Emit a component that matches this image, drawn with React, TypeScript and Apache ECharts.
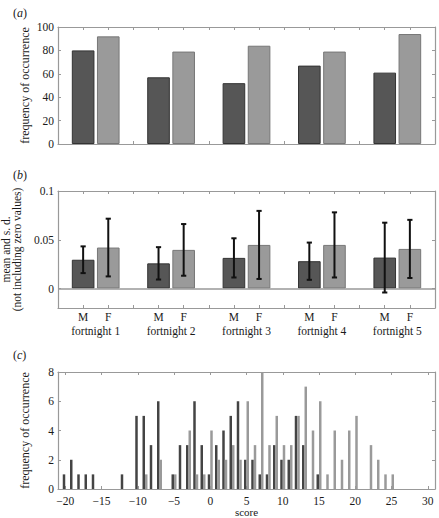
import React, { useEffect, useRef } from 'react';
import * as echarts from 'echarts';

// ---------- data ----------
const fortnights = ['fortnight 1', 'fortnight 2', 'fortnight 3', 'fortnight 4', 'fortnight 5'];
const sexLabels = ['M', 'F'];

// (a) frequency of occurrence per fortnight
const freqMale = [80, 57, 52, 67, 61];
const freqFemale = [92, 79, 84, 79, 94];

// (b) mean and s.d. (not including zero values)
const meanMale = [0.0295, 0.0258, 0.0314, 0.028, 0.0317];
const sdMale = [0.0137, 0.0166, 0.0201, 0.0191, 0.0358];
const meanFemale = [0.042, 0.0396, 0.0447, 0.0447, 0.0406];
const sdFemale = [0.0296, 0.0265, 0.0349, 0.0334, 0.0298];

// (c) histogram of scores
const scoreBins = [
  -20, -19, -18, -17, -16, -15, -14, -13, -12, -11, -10, -9, -8, -7, -6, -5, -4, -3, -2, -1,
  0, 1, 2, 3, 4, 5, 6, 7, 8, 9, 10, 11, 12, 13, 14, 15, 16, 17, 18, 19, 20, 21, 22, 23, 24, 25,
];
const countMale = [
  1, 2, 1, 1, 1, 0, 0, 0, 1, 0, 5, 5, 3, 6, 0, 1, 3, 3, 6, 3,
  1, 3, 4, 5, 6, 2, 2, 1, 1, 3, 2, 2, 5, 3, 0, 1, 0, 0, 0, 0, 0, 0, 0, 0, 0, 0,
];
const countFemale = [
  0, 0, 0, 0, 0, 0, 0, 0, 0, 0, 0, 1, 0, 2, 0, 1, 0, 4, 1, 1,
  4, 2, 2, 3, 2, 6, 3, 8, 3, 5, 3, 3, 5, 7, 4, 6, 1, 4, 2, 4, 5, 0, 3, 2, 1, 1,
];

// tick labels
const freqTicks = [0, 20, 40, 60, 80, 100];
const meanTicks = [0, 0.05, 0.1];
const scoreTicks = [-20, -15, -10, -5, 0, 5, 10, 15, 20, 25, 30];
const countTicks = [0, 2, 4, 6, 8];

// ---------- styles ----------
const FONT = "'Liberation Serif', 'Times New Roman', 'DejaVu Serif', serif";
const AXIS_COLOR = '#999999';
const TEXT_COLOR = '#1a1a1a';
const DARK = '#565656';
const DARK_EDGE = '#333333';
const LIGHT = '#9a9a9a';
const LIGHT_EDGE = '#777777';

const lineStyle = { color: AXIS_COLOR, width: 1.2 };
const tickStyle = { show: true, inside: true, length: 3, lineStyle: { color: AXIS_COLOR, width: 1 } };
const labelStyle = { fontFamily: FONT, fontSize: 11.5, color: TEXT_COLOR };

const GRID_LEFT = 58;
const GRID_W = 377;
const GRID_H = 117;

function slot(group: number, sex: number) {
  return group * 3 + 1 + sex;
}

export default function App() {
  const ref = useRef<HTMLDivElement>(null);

  useEffect(() => {
    if (!ref.current) return;
    const chart = echarts.init(ref.current, undefined, { renderer: 'svg' });

    const baseX = (gridIndex: number, position: 'bottom' | 'top', extra: any = {}) => ({
      gridIndex,
      type: 'value',
      position,
      axisLine: { show: true, onZero: false, lineStyle },
      axisTick: tickStyle,
      axisLabel: { show: false },
      splitLine: { show: false },
      ...extra,
    });
    const baseY = (gridIndex: number, position: 'left' | 'right', extra: any = {}) => ({
      gridIndex,
      type: 'value',
      position,
      axisLine: { show: true, onZero: false, lineStyle },
      axisTick: tickStyle,
      axisLabel: { show: false },
      splitLine: { show: false },
      ...extra,
    });

    const barItems = (male: number[], female: number[]) => {
      const out: any[] = [];
      male.forEach((v, g) => {
        out.push({ value: [slot(g, 0), v], itemStyle: { color: DARK, borderColor: DARK_EDGE, borderWidth: 1 } });
        out.push({ value: [slot(g, 1), female[g]], itemStyle: { color: LIGHT, borderColor: LIGHT_EDGE, borderWidth: 1 } });
      });
      return out;
    };

    const errData: any[] = [];
    meanMale.forEach((m, g) => {
      errData.push([slot(g, 0), m, sdMale[g]]);
      errData.push([slot(g, 1), meanFemale[g], sdFemale[g]]);
    });

    const yName = (text: string, gap: number, extra: any = {}) => ({
      name: text,
      nameLocation: 'middle',
      nameGap: gap,
      nameMoveOverlap: false,
      nameTextStyle: { fontFamily: FONT, fontSize: 12, color: TEXT_COLOR, ...extra },
    });

    const mkGrid = (top: number) => ({
      left: GRID_LEFT,
      top,
      width: GRID_W,
      height: GRID_H,
      containLabel: false,
      outerBoundsMode: 'none',
    });

    const letter = (ch: string, top: number) => ({
      type: 'text',
      left: 13,
      top,
      style: {
        text: `{p|(}{i|${ch}}{p|)}`,
        rich: {
          p: { fontFamily: FONT, fontSize: 12, fill: TEXT_COLOR },
          i: { fontFamily: FONT, fontSize: 12, fontStyle: 'italic', fill: TEXT_COLOR },
        },
      },
    });

    const option: any = {
      animation: false,
      backgroundColor: '#ffffff',
      textStyle: { fontFamily: FONT },
      grid: [mkGrid(27), mkGrid(191), mkGrid(372)],
      xAxis: [
        // (a)
        baseX(0, 'bottom', { min: 0, max: 15, interval: 1 }),
        baseX(0, 'top', { min: 0, max: 15, interval: 1 }),
        // (b)
        baseX(1, 'bottom', {
          min: 0,
          max: 15,
          interval: 1,
          axisLabel: {
            show: true,
            ...labelStyle,
            margin: 3,
            formatter: (v: number) => {
              const k = Math.round(v) % 3;
              return k === 1 ? sexLabels[0] : k === 2 ? sexLabels[1] : '';
            },
          },
        }),
        baseX(1, 'top', { min: 0, max: 15, interval: 1 }),
        {
          gridIndex: 1,
          type: 'category',
          position: 'bottom',
          offset: 14,
          data: fortnights,
          boundaryGap: true,
          axisLine: { show: false },
          axisTick: { show: false },
          axisLabel: { show: true, ...labelStyle, margin: 3, interval: 0 },
          splitLine: { show: false },
        },
        // (c)
        baseX(2, 'bottom', {
          min: -21,
          max: 31,
          axisTick: { ...tickStyle, customValues: scoreTicks },
          axisLabel: {
            show: true,
            ...labelStyle,
            lineHeight: 11,
            margin: 6,
            customValues: scoreTicks,
            formatter: (v: number) => String(v).replace('-', '\u2212'),
          },
          name: 'score',
          nameLocation: 'middle',
          nameGap: 17,
          nameMoveOverlap: false,
          nameTextStyle: { fontFamily: FONT, fontSize: 11, lineHeight: 11, color: TEXT_COLOR },
        }),
        baseX(2, 'top', { min: -21, max: 31, axisTick: { ...tickStyle, customValues: scoreTicks } }),
      ],
      yAxis: [
        // (a)
        baseY(0, 'left', {
          min: freqTicks[0],
          max: freqTicks[freqTicks.length - 1],
          interval: 20,
          axisLabel: { show: true, ...labelStyle, margin: 4 },
          ...yName('frequency of occurrence', 27),
        }),
        baseY(0, 'right', { min: 0, max: 100, interval: 20 }),
        // (b)
        baseY(1, 'left', {
          min: -0.02,
          max: 0.1,
          axisTick: { ...tickStyle, customValues: meanTicks },
          axisLabel: { show: true, ...labelStyle, margin: 4, customValues: meanTicks },
          ...yName('mean and s. d.\n(not including zero values)', 36, { lineHeight: 10.5, fontSize: 11.5 }),
        }),
        baseY(1, 'right', {
          min: -0.02,
          max: 0.1,
          axisTick: { ...tickStyle, customValues: meanTicks },
        }),
        // (c)
        baseY(2, 'left', {
          min: countTicks[0],
          max: countTicks[countTicks.length - 1],
          interval: 2,
          axisLabel: { show: true, ...labelStyle, margin: 4 },
          ...yName('frequency of occurrence', 27),
        }),
        baseY(2, 'right', { min: 0, max: 8, interval: 2 }),
      ],
      series: [
        {
          type: 'bar',
          name: 'freq',
          xAxisIndex: 0,
          yAxisIndex: 0,
          barWidth: '90%',
          data: barItems(freqMale, freqFemale),
        },
        {
          type: 'bar',
          name: 'mean',
          xAxisIndex: 2,
          yAxisIndex: 2,
          barWidth: '90%',
          data: barItems(meanMale, meanFemale),
          markLine: {
            silent: true,
            symbol: 'none',
            label: { show: false },
            lineStyle: { color: AXIS_COLOR, width: 1.5, type: 'solid' },
            data: [{ yAxis: 0 }],
          },
        },
        {
          type: 'custom',
          name: 'sd',
          xAxisIndex: 2,
          yAxisIndex: 2,
          z: 5,
          data: errData,
          renderItem: (params: any, api: any) => {
            const x = api.value(0);
            const m = api.value(1);
            const s = api.value(2);
            const lo = api.coord([x, m - s]);
            const hi = api.coord([x, m + s]);
            const cap = 2.6;
            const st = { stroke: '#111111', lineWidth: 2 };
            return {
              type: 'group',
              children: [
                { type: 'line', shape: { x1: lo[0], y1: lo[1], x2: hi[0], y2: hi[1] }, style: st },
                { type: 'line', shape: { x1: lo[0] - cap, y1: lo[1], x2: lo[0] + cap, y2: lo[1] }, style: st },
                { type: 'line', shape: { x1: hi[0] - cap, y1: hi[1], x2: hi[0] + cap, y2: hi[1] }, style: st },
              ],
            };
          },
        },
        {
          type: 'bar',
          name: 'M',
          xAxisIndex: 5,
          yAxisIndex: 4,
          barWidth: 2.5,
          barGap: '0%',
          itemStyle: { color: '#444444' },
          data: scoreBins.map((s, i) => [s, countMale[i]]).filter((d) => d[1] > 0),
        },
        {
          type: 'bar',
          name: 'F',
          xAxisIndex: 5,
          yAxisIndex: 4,
          barWidth: 2.5,
          barGap: '0%',
          itemStyle: { color: '#9a9a9a' },
          data: scoreBins.map((s, i) => [s, countFemale[i]]).filter((d) => d[1] > 0),
        },
      ],
      graphic: [letter('a', 7), letter('b', 169), letter('c', 349)],
    };

    chart.setOption(option);
    return () => chart.dispose();
  }, []);

  return (
    <div
      ref={ref}
      style={{ position: 'fixed', left: 0, top: 0, width: 439, height: 518, background: '#fff' }}
    />
  );
}
